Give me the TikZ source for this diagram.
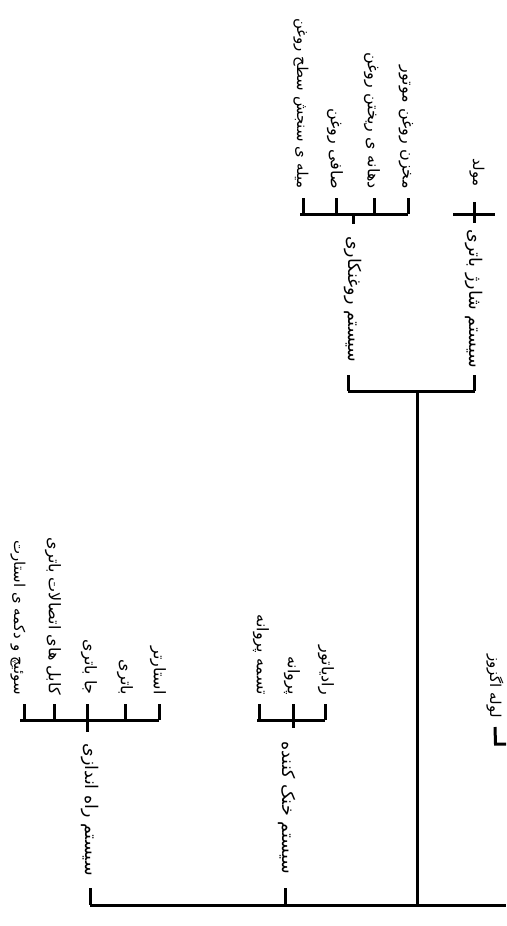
\documentclass[tikz,border=0pt]{standalone}
\usepackage{fontspec}
\TeXXeTstate=1
\newfontfamily\arabicfont[Script=Arabic]{DejaVu Sans}
\newcommand{\fa}[1]{\arabicfont\beginR #1\endR}
\tikzset{
  lab/.style={rotate=-90,anchor=east,inner sep=0pt,font=\fontsize{17.5}{20}\selectfont},
  leaf/.style={lab,inner xsep=9pt,font=\fontsize{16}{19}\selectfont},
  smallleaf/.style={leaf,font=\fontsize{15}{18}\selectfont},
  conn/.style={draw=black,line width=3pt,line cap=butt}
}
\begin{document}
\begin{tikzpicture}[x=1pt,y=-1pt]
\useasboundingbox (0,0) rectangle (506,926);
\begin{scope}
\clip (0,0) rectangle (506,926);
% junction levels
\coordinate (main) at (417,905);
\coordinate (upper) at (417,391);
\coordinate (oilbar) at (353,214);
\coordinate (chargebar) at (475,214);
\coordinate (coolbar) at (293,720);
\coordinate (startbar) at (87,720);
\coordinate (mainleft) at (89.5,905);
\coordinate (mainright) at (506,905);
\coordinate (cbl) at (453,214);
\coordinate (cbr) at (495,214);
\coordinate (exhbar) at (495.5,744);
\coordinate (exhr) at (506,744);
\coordinate (oillow) at (348,375);
\coordinate (coollow) at (285,888);
% system nodes
\node[lab,minimum width=152pt] (charge) at (474.5,375) {\fa{سیستم شارژ باتری}};
\node[lab,minimum width=151pt] (oil) at (353,375) {\fa{سیستم روغنکاری}};
\node[lab,minimum width=160pt] (cool) at (287,888) {\fa{سیستم خنک کننده}};
\node[lab,minimum width=156pt] (start) at (90,888) {\fa{سیستم راه اندازی}};
% leaves
\node[smallleaf,inner xsep=15pt] (gen) at (477,202) {\fa{مولد}};
\node[leaf] (o1) at (406,198) {\fa{مخزن روغن موتور}};
\node[leaf] (o2) at (372,198) {\fa{دهانه ی ریختن روغن}};
\node[leaf] (o3) at (335,198) {\fa{صافی روغن}};
\node[smallleaf] (o4) at (301,198) {\fa{میله ی سنجش سطح روغن}};
\node[leaf] (c1) at (326,704) {\fa{رادیاتور}};
\node[leaf] (c2) at (292,704) {\fa{پروانه}};
\node[leaf] (c3) at (261,704) {\fa{تسمه پروانه}};
\node[leaf] (s1) at (158,704) {\fa{استارتر}};
\node[leaf] (s2) at (125,704) {\fa{باتری}};
\node[leaf] (s3) at (89,704) {\fa{جا باتری}};
\node[leaf] (s4) at (53,704) {\fa{کابل های اتصالات باتری}};
\node[smallleaf] (s5) at (18,704) {\fa{سوئیچ و دکمه ی استارت}};
\node[smallleaf] (exh) at (495,727) {\fa{لوله اگزوز}};
% leaf ticks (free ends fixed on the tick columns)
\coordinate (t1) at (408,198);
\coordinate (t2) at (374,198);
\coordinate (t3) at (336,198);
\coordinate (t4) at (303,198);
\coordinate (t5) at (325,704);
\coordinate (t6) at (293,704);
\coordinate (t7) at (259,704);
\coordinate (t8) at (159,704);
\coordinate (t9) at (125,704);
\coordinate (t10) at (87,704);
\coordinate (t11) at (54,704);
\coordinate (t12) at (24,704);
% main trunk
\draw[conn] (mainleft) -- (mainright);
\draw[conn] (upper) -- (main);
\draw[conn] (charge.east) -- (charge.east |- upper);
\draw[conn] (oillow) -- (oillow |- upper);
\draw[conn] (oillow |- upper) -- (charge.east |- upper);
\draw[conn] (coollow) -- (coollow |- main);
\draw[conn] (start.east) -- (start.east |- main);
% charge
\draw[conn] (cbl) -- (cbr);
\draw[conn] (charge.west) -- (charge.west |- gen.east);
% oil
\draw[conn] (t4 |- oilbar) ++(-3,0) -- (t1 |- oilbar);
\foreach \n in {t1,t2,t3,t4} \draw[conn] (\n) -- (\n |- oilbar);
\draw[conn] (oil.west) -- (oil.west |- oilbar);
% cooling
\draw[conn] (t7 |- coolbar) ++(-2,0) -- (t5 |- coolbar);
\foreach \n in {t5,t6,t7} \draw[conn] (\n) -- (\n |- coolbar);
\draw[conn] (cool.west -| coolbar) -- (coolbar);
% starting
\draw[conn] (t12 |- startbar) ++(-4,0) -- (t8 |- startbar);
\foreach \n in {t8,t9,t10,t11,t12} \draw[conn] (\n) -- (\n |- startbar);
\draw[conn] (start.west -| startbar) -- (startbar);
% exhaust
\draw[conn] (exh.east) -- (exhbar) -- (exhr);
\end{scope}
\end{tikzpicture}
\end{document}
